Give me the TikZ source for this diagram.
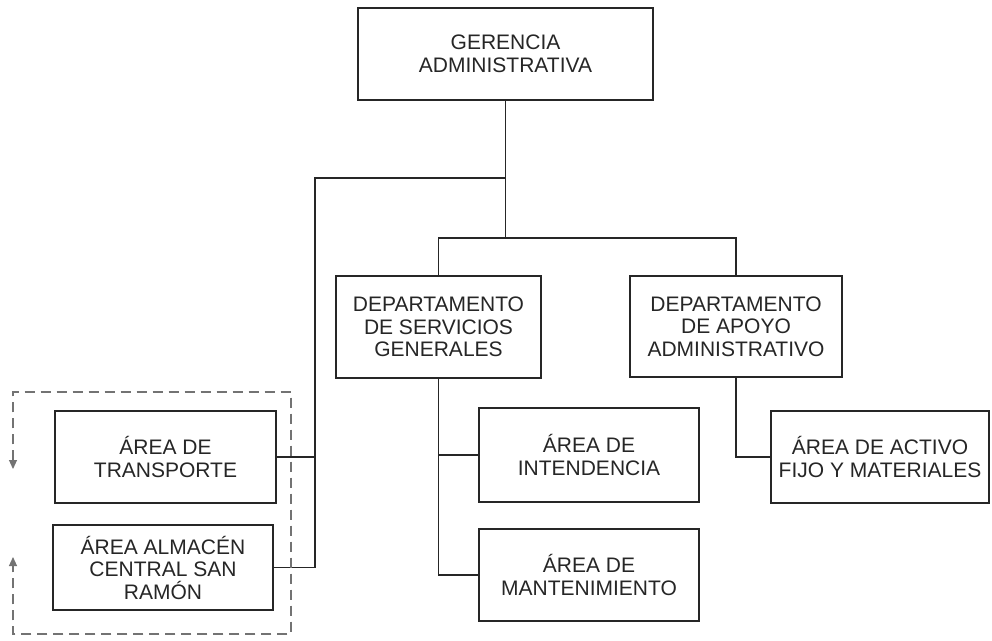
\documentclass[tikz,border=0pt]{standalone}
\usepackage{fontspec}
\setmainfont{Liberation Sans}
\usetikzlibrary{arrows.meta}
\begin{document}
\begin{tikzpicture}[x=1pt,y=-1pt,
  box/.style={draw=black!85, line width=1.4pt, align=center, inner sep=2pt,
    font=\fontsize{21}{22.5}\selectfont, text=black!85},
  conn/.style={draw=black!85, line width=1.4pt},
  loopline/.style={draw=black!55, line width=1.1pt, dash pattern=on 10pt off 6pt,
    {Triangle[length=9pt,width=8pt]}-{Triangle[length=9pt,width=8pt]}}]
\useasboundingbox[fill=white] (0,0) rectangle (992,640);

\node[box, minimum width=295pt, minimum height=92pt] (ger) at (505.5,54) {GERENCIA\\ADMINISTRATIVA};
\node[box, minimum width=205pt, minimum height=102pt] (dsg) at (438.5,327) {DEPARTAMENTO\\DE SERVICIOS\\GENERALES};
\node[box, minimum width=212pt, minimum height=101pt] (dapo) at (736,326.5) {DEPARTAMENTO\\DE APOYO\\ADMINISTRATIVO};
\node[box, minimum width=221pt, minimum height=92pt] (trans) at (165.5,457) {ÁREA DE\\TRANSPORTE};
\node[box, minimum width=220pt, minimum height=85pt] (alm) at (163,567.5) {ÁREA ALMACÉN\\CENTRAL SAN\\RAMÓN};
\node[box, minimum width=220pt, minimum height=94pt] (int) at (589,455) {ÁREA DE\\INTENDENCIA};
\node[box, minimum width=220pt, minimum height=92pt] (mant) at (589,575) {ÁREA DE\\MANTENIMIENTO};
\node[box, minimum width=218pt, minimum height=92pt] (act) at (880,457) {ÁREA DE ACTIVO\\FIJO Y MATERIALES};

\coordinate (j0) at (505.5,178);
\coordinate (j1) at (505.5,238);
\coordinate (lv) at (315,567.5);

\draw[conn] (ger.south) -- (j1);
\draw[conn] (dsg.north) |- (j1) -| (dapo.north);
\draw[conn] (j0) -| (lv);
\draw[conn] (trans.east) -- (trans.east -| lv);
\draw[conn] (alm.east) -- (lv);
\draw[conn] (dsg.south) |- (int.west);
\draw[conn] (dsg.south) |- (mant.west);
\draw[conn] (dapo.south) |- (act.west);

\coordinate (d1) at (13,469);
\coordinate (d2) at (13,392);
\coordinate (d3) at (291,392);
\coordinate (d4) at (291,634);
\coordinate (d5) at (13,634);
\coordinate (d6) at (13,557);
\draw[loopline] (d1) -- (d2) -- (d3) -- (d4) -- (d5) -- (d6);
\end{tikzpicture}
\end{document}
